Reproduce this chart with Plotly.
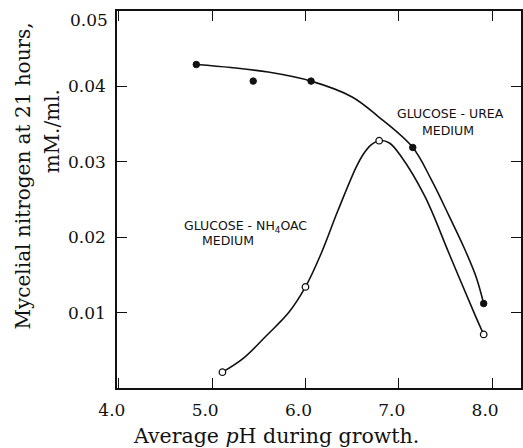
import plotly.graph_objects as go

# Measured points (pH, mycelial N mM/ml)
urea_ph = [4.83, 5.44, 6.06, 7.15, 7.91]
urea_n = [0.0429, 0.0407, 0.0407, 0.0319, 0.0112]

nh4_ph = [5.11, 6.00, 6.79, 7.91]
nh4_n = [0.0021, 0.0134, 0.0328, 0.0071]

# Hand-drawn smooth curves
urea_curve_ph = [4.83, 5.20, 5.60, 6.06, 6.50, 6.78, 7.15, 7.35, 7.54, 7.70, 7.83, 7.91]
urea_curve_n = [0.0429, 0.0425, 0.0419, 0.0407, 0.0386, 0.0360, 0.0319, 0.0276, 0.0228,
                0.0186, 0.0147, 0.0112]

nh4_curve_ph = [5.11, 5.34, 5.57, 5.82, 6.00, 6.16, 6.35, 6.54, 6.62, 6.70, 6.79, 6.90, 7.02,
                7.28, 7.54, 7.82, 7.91]
nh4_curve_n = [0.0021, 0.0040, 0.0068, 0.0100, 0.0134, 0.0176, 0.0236, 0.0292, 0.0310, 0.0322,
               0.0328, 0.0325, 0.0308, 0.0254, 0.0178, 0.0096, 0.0071]

x_ticks = [4.0, 5.0, 6.0, 7.0, 8.0]
x_ticklabels = ["4.0", "5.0", "6.0", "7.0", "8.0"]
y_ticks = [0.01, 0.02, 0.03, 0.04, 0.05]
y_ticklabels = ["0.01", "0.02", "0.03", "0.04", "0.05"]

INK = "#111111"
SERIF = "DejaVu Serif, Liberation Serif, serif"
SANS = "DejaVu Sans, Liberation Sans, sans-serif"

fig = go.Figure()
fig.add_trace(go.Scatter(x=urea_curve_ph, y=urea_curve_n, mode="lines",
                         line=dict(color=INK, width=1.6, shape="spline", smoothing=1.0),
                         hoverinfo="skip", showlegend=False))
fig.add_trace(go.Scatter(x=nh4_curve_ph, y=nh4_curve_n, mode="lines",
                         line=dict(color=INK, width=1.6, shape="spline", smoothing=1.0),
                         hoverinfo="skip", showlegend=False))
fig.add_trace(go.Scatter(x=urea_ph, y=urea_n, mode="markers",
                         marker=dict(symbol="circle", size=6.5, color=INK,
                                     line=dict(color=INK, width=1)),
                         showlegend=False))
fig.add_trace(go.Scatter(x=nh4_ph, y=nh4_n, mode="markers",
                         marker=dict(symbol="circle", size=6.5, color="white",
                                     line=dict(color=INK, width=1.3)),
                         showlegend=False))

# top label 0.05 sits a little below its tick in the original; drawn separately
y_ticktext_axis = y_ticklabels[:-1] + [""]

fig.update_xaxes(range=[3.98, 8.31], tickvals=x_ticks, ticktext=x_ticklabels,
                 ticks="inside", ticklen=10, tickwidth=1.3, tickcolor=INK,
                 showline=True, linecolor=INK, linewidth=1.6, mirror="ticks",
                 showgrid=False, zeroline=False, ticklabelshift=-7, ticklabelstandoff=6,
                 tickfont=dict(family=SERIF, size=17, color=INK))
fig.update_yaxes(range=[0, 0.05], tickvals=y_ticks, ticktext=y_ticktext_axis,
                 ticks="inside", ticklen=10, tickwidth=1.3, tickcolor=INK,
                 showline=True, linecolor=INK, linewidth=1.6, mirror="ticks",
                 showgrid=False, zeroline=False, ticklabelstandoff=6,
                 tickfont=dict(family=SERIF, size=17, color=INK))

annos = [
    dict(text=y_ticklabels[-1], x=89, y=20, font=dict(family=SERIF, size=17)),
    dict(text="Average <i>p</i>H during growth.", x=277, y=436, font=dict(family=SERIF, size=20.5)),
    dict(text="Mycelial nitrogen at 21 hours,", x=23, y=176, textangle=-90, font=dict(family=SERIF, size=20)),
    dict(text="mM./ml.", x=52, y=131, textangle=-90, font=dict(family=SERIF, size=20)),
    dict(text="GLUCOSE - UREA", x=452, y=114, font=dict(family=SANS, size=12.5)),
    dict(text="MEDIUM", x=450, y=130, font=dict(family=SANS, size=12.5)),
    dict(text="GLUCOSE - NH<sub>4</sub>OAC", x=246, y=227, font=dict(family=SANS, size=12.5)),
    dict(text="MEDIUM", x=229, y=240, font=dict(family=SANS, size=12.5)),
]
W, H = 523, 448
for a in annos:
    fig.add_annotation(text=a["text"], xref="paper", yref="paper",
                       x=(a["x"] - 117) / (523 - 117), y=(388 - a["y"]) / (388 - 11),
                       xanchor="center", yanchor="middle", showarrow=False,
                       textangle=a.get("textangle", 0),
                       font=dict(color=INK, **a["font"]))

fig.update_layout(width=W, height=H, margin=dict(l=117, r=0, t=11, b=60),
                  paper_bgcolor="white", plot_bgcolor="white", showlegend=False)

fig.write_html("out.html")
